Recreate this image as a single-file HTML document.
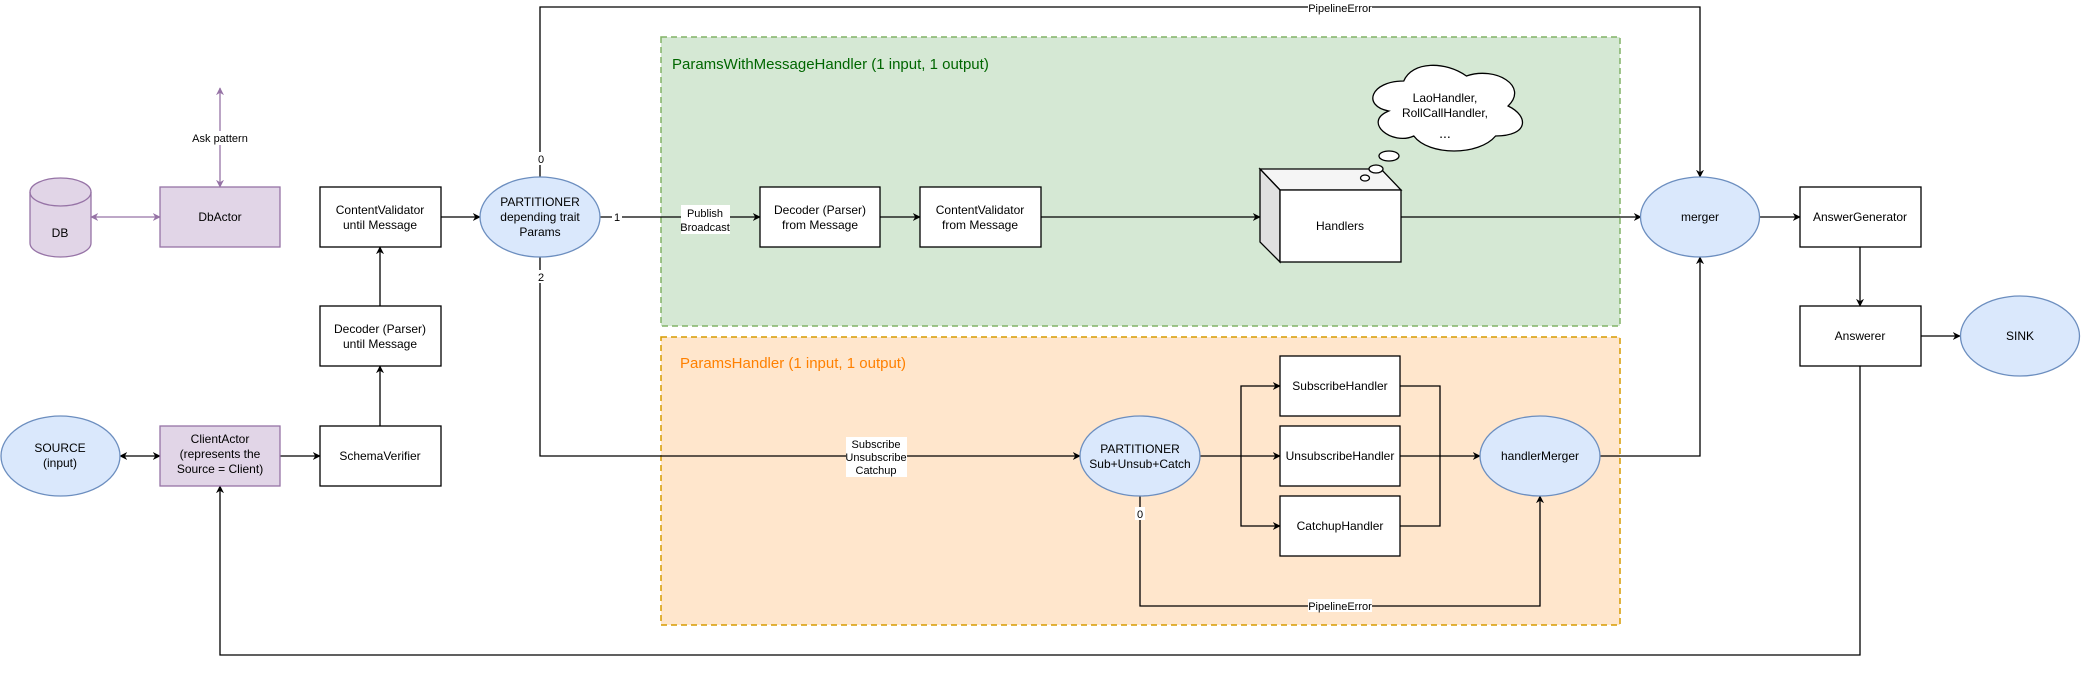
<!DOCTYPE html>
<html><head><meta charset="utf-8"><style>html,body{margin:0;padding:0;background:#fff}svg{display:block}text{font-family:"Liberation Sans",Arial,sans-serif}</style></head>
<body>
<svg width="2081" height="678" viewBox="0 0 2081 678" xmlns="http://www.w3.org/2000/svg">
<defs>
<marker id="a" viewBox="0 0 10 10" refX="9" refY="5" markerWidth="8" markerHeight="8" orient="auto-start-reverse" markerUnits="userSpaceOnUse"><path d="M0,0 L10,5 L0,10 L3,5 Z" fill="#000"/></marker>
<marker id="p" viewBox="0 0 10 10" refX="9" refY="5" markerWidth="8" markerHeight="8" orient="auto-start-reverse" markerUnits="userSpaceOnUse"><path d="M0,0 L10,5 L0,10 L3,5 Z" fill="#9673a6"/></marker>
</defs>
<rect x="661" y="37" width="959" height="289" fill="#d5e8d4" stroke="#82b366" stroke-width="1.5" stroke-dasharray="6,4"/>
<rect x="661" y="337" width="959" height="288" fill="#ffe6cc" stroke="#d79b00" stroke-width="1.5" stroke-dasharray="6,4"/>
<text x="672" y="69" font-size="15" fill="#006600">ParamsWithMessageHandler (1 input, 1 output)</text>
<text x="680" y="368" font-size="15" fill="#ff8000">ParamsHandler (1 input, 1 output)</text>

<g fill="none" stroke="#000" stroke-width="1.3">
<line x1="441" y1="217" x2="480" y2="217" marker-end="url(#a)"/>
<polyline points="540,177 540,7 1700,7 1700,177" marker-end="url(#a)"/>
<line x1="600" y1="217" x2="760" y2="217" marker-end="url(#a)"/>
<line x1="880" y1="217" x2="920" y2="217" marker-end="url(#a)"/>
<line x1="1041" y1="217" x2="1260" y2="217" marker-end="url(#a)"/>
<line x1="1401" y1="217" x2="1641" y2="217" marker-end="url(#a)"/>
<line x1="1760" y1="217" x2="1800" y2="217" marker-end="url(#a)"/>
<line x1="1860" y1="247" x2="1860" y2="306" marker-end="url(#a)"/>
<line x1="1921" y1="336" x2="1960" y2="336" marker-end="url(#a)"/>
<polyline points="540,257 540,456 1080,456" marker-end="url(#a)"/>
<line x1="1200" y1="456" x2="1280" y2="456" marker-end="url(#a)"/>
<polyline points="1241,456 1241,386 1280,386" marker-end="url(#a)"/>
<polyline points="1241,456 1241,526 1280,526" marker-end="url(#a)"/>
<polyline points="1400,386 1440,386 1440,526 1400,526"/>
<line x1="1400" y1="456" x2="1480" y2="456" marker-end="url(#a)"/>
<polyline points="1140,496 1140,606 1540,606 1540,496" marker-end="url(#a)"/>
<polyline points="1600,456 1700,456 1700,257" marker-end="url(#a)"/>
<polyline points="1860,366 1860,655 220,655 220,486" marker-end="url(#a)"/>
<line x1="120" y1="456" x2="160" y2="456" marker-start="url(#a)" marker-end="url(#a)"/>
<line x1="280" y1="456" x2="320" y2="456" marker-end="url(#a)"/>
<line x1="380" y1="426" x2="380" y2="366" marker-end="url(#a)"/>
<line x1="380" y1="306" x2="380" y2="247" marker-end="url(#a)"/>
</g>
<g fill="none" stroke="#9673a6" stroke-width="1.3">
<line x1="91" y1="217" x2="160" y2="217" marker-start="url(#p)" marker-end="url(#p)"/>
<line x1="220" y1="88" x2="220" y2="187" marker-start="url(#p)" marker-end="url(#p)"/>
</g>

<g font-size="11" text-anchor="middle">
<rect x="185" y="131" width="70" height="14" fill="#fff"/><text x="220" y="142">Ask pattern</text>
<rect x="535" y="152" width="12" height="13" fill="#fff"/><text x="541" y="163">0</text>
<rect x="612" y="210" width="10" height="13" fill="#fff"/><text x="617" y="221">1</text>
<rect x="535" y="270" width="12" height="13" fill="#fff"/><text x="541" y="281">2</text>
<rect x="681" y="205" width="49" height="29" fill="#fff"/><text x="705" y="217">Publish</text><text x="705" y="231">Broadcast</text>
<rect x="846" y="437" width="61" height="40" fill="#fff"/><text x="876" y="448">Subscribe</text><text x="876" y="461">Unsubscribe</text><text x="876" y="474">Catchup</text>
<rect x="1308" y="1" width="64" height="13" fill="#fff"/><text x="1340" y="12">PipelineError</text>
<rect x="1308" y="599" width="64" height="13" fill="#fff"/><text x="1340" y="610">PipelineError</text>
<rect x="1135" y="507" width="10" height="13" fill="#fff"/><text x="1140" y="518">0</text>
</g>

<g stroke-width="1.3">
<path d="M30,192 A30.5,14 0 0 1 91,192 L91,243 A30.5,14 0 0 1 30,243 Z" fill="#e1d5e7" stroke="#9673a6"/>
<path d="M30,192 A30.5,14 0 0 0 91,192" fill="none" stroke="#9673a6"/>
<rect x="160" y="187" width="120" height="60" fill="#e1d5e7" stroke="#9673a6"/>
<rect x="160" y="426" width="120" height="60" fill="#e1d5e7" stroke="#9673a6"/>
<ellipse cx="60.5" cy="456" rx="59.5" ry="40" fill="#dae8fc" stroke="#6c8ebf"/>
<ellipse cx="540" cy="217" rx="60" ry="40" fill="#dae8fc" stroke="#6c8ebf"/>
<ellipse cx="1140" cy="456" rx="60" ry="40" fill="#dae8fc" stroke="#6c8ebf"/>
<ellipse cx="1540" cy="456" rx="60" ry="40" fill="#dae8fc" stroke="#6c8ebf"/>
<ellipse cx="1700" cy="217" rx="59.5" ry="40" fill="#dae8fc" stroke="#6c8ebf"/>
<ellipse cx="2020" cy="336" rx="59.5" ry="40" fill="#dae8fc" stroke="#6c8ebf"/>
<g fill="#fff" stroke="#000">
<rect x="320" y="187" width="121" height="60"/>
<rect x="320" y="306" width="121" height="60"/>
<rect x="320" y="426" width="121" height="60"/>
<rect x="760" y="187" width="120" height="60"/>
<rect x="920" y="187" width="121" height="60"/>
<rect x="1280" y="356" width="120" height="60"/>
<rect x="1280" y="426" width="120" height="60"/>
<rect x="1280" y="496" width="120" height="60"/>
<rect x="1800" y="187" width="121" height="60"/>
<rect x="1800" y="306" width="121" height="60"/>
<polygon points="1260,169 1381,169 1401,190 1280,190" fill="#f5f5f5"/>
<polygon points="1260,169 1280,190 1280,262 1260,242" fill="#e0e0e0"/>
<rect x="1280" y="190" width="121" height="72"/>
<path d="M1403.75,81 C1370.35,81 1362,106 1388.7,111 C1362,122 1392,146 1413.8,136 C1428.8,156 1478.9,156 1495.6,136 C1529,136 1529,116 1508.1,106 C1529,86 1495.6,66 1466.4,76 C1445.5,61 1412.1,61 1403.75,81 Z"/>
<ellipse cx="1389" cy="156" rx="10" ry="5"/>
<ellipse cx="1376" cy="169" rx="7" ry="4"/>
<ellipse cx="1365" cy="178" rx="4.5" ry="3"/>
</g>
</g>

<g font-size="12" text-anchor="middle" fill="#000">
<text x="60" y="237">DB</text>
<text x="220" y="221">DbActor</text>
<text x="380" y="214">ContentValidator</text><text x="380" y="229">until Message</text>
<text x="380" y="333">Decoder (Parser)</text><text x="380" y="348">until Message</text>
<text x="380" y="460">SchemaVerifier</text>
<text x="220" y="443">ClientActor</text><text x="220" y="458">(represents the</text><text x="220" y="473">Source = Client)</text>
<text x="60" y="452">SOURCE</text><text x="60" y="467">(input)</text>
<text x="540" y="206">PARTITIONER</text><text x="540" y="221">depending trait</text><text x="540" y="236">Params</text>
<text x="820" y="214">Decoder (Parser)</text><text x="820" y="229">from Message</text>
<text x="980" y="214">ContentValidator</text><text x="980" y="229">from Message</text>
<text x="1340" y="230">Handlers</text>
<text x="1445" y="102">LaoHandler,</text><text x="1445" y="117">RollCallHandler,</text><text x="1445" y="138" font-size="14">...</text>
<text x="1700" y="221">merger</text>
<text x="1860" y="221">AnswerGenerator</text>
<text x="1860" y="340">Answerer</text>
<text x="2020" y="340">SINK</text>
<text x="1140" y="453">PARTITIONER</text><text x="1140" y="468">Sub+Unsub+Catch</text>
<text x="1340" y="390">SubscribeHandler</text>
<text x="1340" y="460">UnsubscribeHandler</text>
<text x="1340" y="530">CatchupHandler</text>
<text x="1540" y="460">handlerMerger</text>
</g>
</svg>
</body></html>
